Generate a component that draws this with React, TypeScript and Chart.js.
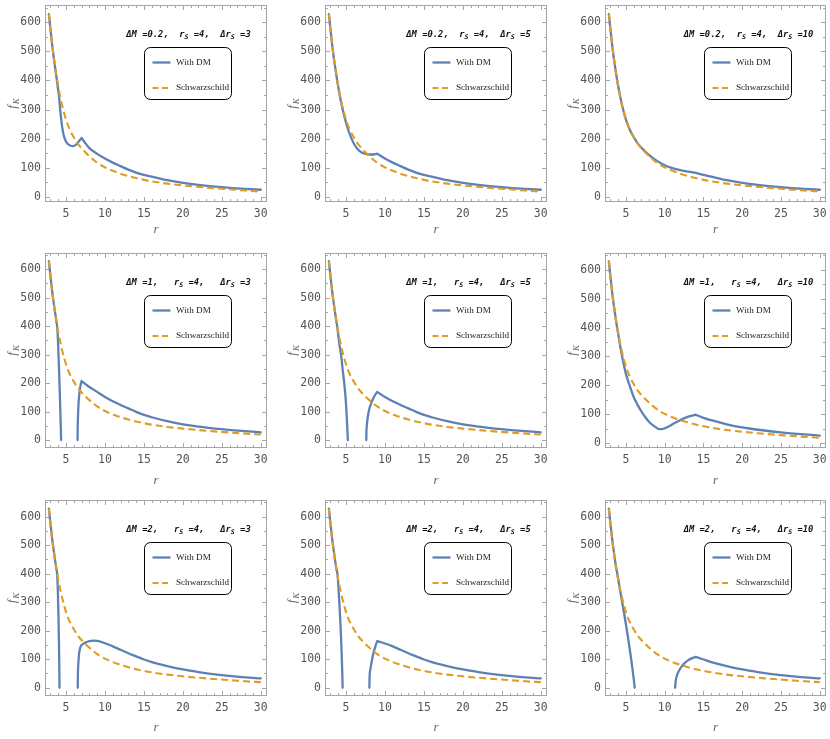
import React, { useEffect, useRef } from 'react';
import { Chart, registerables } from 'chart.js';

Chart.register(...registerables);

// ---------------- data ----------------
// Schwarzschild curve (same in every panel)
const rSchw = [2.8, 3.0, 3.25, 3.5, 3.75, 4.0, 4.25, 4.5, 5.0, 5.5, 6.0, 6.5, 7.0, 8.0, 9.0, 10, 11, 12, 13, 14, 15, 16, 18, 20, 22, 24, 26, 28, 30];
const fSchw = [628, 575, 515, 465, 420, 380, 345, 315, 265, 230, 205, 183, 167, 140, 118, 102, 90, 80, 72, 65, 59, 54, 46, 40, 35, 30.5, 26.5, 22.5, 19.5];

// With DM, ΔM = 0.2
const r_dm02_rs3 = [2.8, 3.0, 3.25, 3.5, 3.75, 3.95, 4.1, 4.25, 4.4, 4.55, 4.7, 4.9, 5.2, 5.6, 5.9, 6.3, 6.6, 7.0, 7.0, 7.0, 7.5, 8, 9, 10, 11, 12, 13, 14, 15, 16, 18, 20, 22, 25, 28, 30];
const f_dm02_rs3 = [628, 575, 515, 463, 415, 375, 345, 300, 262, 232, 212, 196, 183, 176, 175, 180, 190, 203, null, 203, 184, 168, 148, 132, 118, 106, 94, 84, 76, 70, 58, 49, 42, 34, 28, 25];
const r_dm02_rs5 = [2.8, 3.0, 3.25, 3.5, 3.75, 4.0, 4.5, 5.0, 5.5, 6.0, 6.5, 7.0, 7.5, 8.0, 8.5, 8.8, 9.0, 9.0, 9.0, 10, 11, 12, 13, 14, 15, 16, 18, 20, 22, 25, 28, 30];
const f_dm02_rs5 = [628, 575, 515, 465, 420, 378, 308, 255, 214, 184, 164, 153, 148, 146, 146, 147, 149, null, 149, 132, 118, 106, 94, 84, 76, 70, 58, 49, 42, 34, 28, 25];
const r_dm02_rs10 = [2.8, 3.0, 3.25, 3.5, 3.75, 4.0, 4.5, 5.0, 5.5, 6.0, 6.5, 7.0, 8.0, 9.0, 10, 11, 12, 13, 14, 14, 14, 15, 16, 18, 20, 22, 25, 28, 30];
const f_dm02_rs10 = [628, 575, 515, 465, 420, 380, 315, 266, 231, 206, 185, 169, 144, 124, 109, 99, 92, 87, 83, null, 83, 76, 70, 58, 49, 42, 34, 28, 25];

// With DM, ΔM = 1
const r_dm1_rs3 = [2.8, 3.0, 3.25, 3.5, 3.75, 3.9, 4.0, 4.1, 4.2, 4.28, 4.33, 4.36, 4.37, 4.37, 6.48, 6.5, 6.55, 6.62, 6.72, 6.85, 7.0, 7.0, 7.0, 7.5, 8, 9, 10, 11, 12, 13, 14, 15, 16, 18, 20, 22, 25, 28, 30];
const f_dm1_rs3 = [628, 575, 515, 465, 418, 385, 325, 250, 165, 90, 40, 10, 0, null, 0, 45, 95, 135, 165, 190, 207, null, 207, 196, 186, 169, 151, 136, 123, 111, 99, 88, 80, 66, 55, 47, 38, 31, 27];
const r_dm1_rs5 = [2.8, 3.0, 3.25, 3.5, 3.75, 3.9, 4.1, 4.37, 4.6, 4.8, 4.95, 5.06, 5.15, 5.2, 5.23, 5.23, 7.6, 7.62, 7.68, 7.9, 8.3, 8.6, 9.0, 9.0, 9.0, 10, 11, 12, 13, 14, 15, 16, 18, 20, 22, 25, 28, 30];
const f_dm1_rs5 = [628, 575, 515, 465, 418, 392, 345, 297, 240, 192, 145, 99, 50, 20, 0, null, 0, 30, 55, 99, 134, 152, 169, null, 169, 151, 136, 123, 111, 99, 88, 80, 66, 55, 47, 38, 31, 27];
const r_dm1_rs10 = [2.8, 3.0, 3.25, 3.5, 3.75, 4.0, 4.3, 4.6, 5.0, 5.5, 6.0, 6.5, 7.0, 7.5, 8.0, 8.5, 9.0, 9.3, 9.6, 10.0, 10.5, 11.0, 11.6, 12.2, 12.8, 13.4, 14, 14, 14, 15, 16, 18, 20, 22, 25, 28, 30];
const f_dm1_rs10 = [628, 575, 515, 465, 418, 378, 330, 288, 240, 198, 160, 133, 110, 90, 74, 62, 53, 49, 49, 52, 58, 66, 75, 83, 90, 95, 99, null, 99, 88, 80, 66, 55, 47, 38, 31, 27];

// With DM, ΔM = 2
const r_dm2_rs3 = [2.8, 3.0, 3.25, 3.5, 3.75, 3.85, 3.95, 4.03, 4.09, 4.13, 4.15, 4.16, 4.16, 6.5, 6.52, 6.58, 6.68, 6.82, 7.0, 7.0, 7.0, 7.5, 8.0, 8.5, 9.0, 10, 11, 12, 13, 14, 15, 16, 18, 20, 22, 25, 28, 30];
const f_dm2_rs3 = [628, 575, 515, 465, 418, 400, 340, 250, 160, 85, 35, 0, null, 0, 45, 85, 120, 140, 150, null, 150, 158, 163, 165, 164, 156, 145, 133, 121, 110, 99, 90, 76, 64, 55, 44, 36, 33];
const r_dm2_rs5 = [2.8, 3.0, 3.25, 3.5, 3.75, 3.9, 4.05, 4.2, 4.35, 4.45, 4.52, 4.55, 4.56, 4.56, 8.0, 8.02, 8.1, 8.3, 8.55, 8.8, 9.0, 9.0, 9.0, 10, 11, 12, 13, 14, 15, 16, 18, 20, 22, 25, 28, 30];
const f_dm2_rs5 = [628, 575, 515, 465, 418, 398, 340, 270, 185, 110, 50, 15, 0, null, 0, 35, 60, 92, 125, 148, 163, null, 163, 155, 145, 133, 121, 110, 99, 90, 76, 64, 55, 44, 36, 33];
const r_dm2_rs10 = [2.8, 3.0, 3.25, 3.5, 3.75, 3.9, 4.2, 4.5, 4.8, 5.1, 5.4, 5.65, 5.85, 6.0, 6.1, 6.13, 6.13, 11.35, 11.38, 11.45, 11.6, 11.8, 12.2, 12.6, 13.0, 13.5, 14.0, 14.0, 14.0, 15, 16, 18, 20, 22, 25, 28, 30];
const f_dm2_rs10 = [628, 575, 515, 465, 418, 398, 348, 302, 255, 205, 152, 105, 65, 32, 8, 0, null, 0, 15, 30, 45, 58, 75, 87, 96, 103, 108, null, 108, 99, 90, 76, 64, 55, 44, 36, 33];

const xTicks = [5, 10, 15, 20, 25, 30];
const yTicks = [0, 100, 200, 300, 400, 500, 600];
const rsValue = '4';
const deltaMLabels = ['0.2', '1', '2'];
const deltaRsLabels = ['3', '5', '10'];
const legendLabels = ['With DM', 'Schwarzschild'];

const PANEL_DATA = [
  [{ r: r_dm02_rs3, f: f_dm02_rs3 }, { r: r_dm02_rs5, f: f_dm02_rs5 }, { r: r_dm02_rs10, f: f_dm02_rs10 }],
  [{ r: r_dm1_rs3, f: f_dm1_rs3 }, { r: r_dm1_rs5, f: f_dm1_rs5 }, { r: r_dm1_rs10, f: f_dm1_rs10 }],
  [{ r: r_dm2_rs3, f: f_dm2_rs3 }, { r: r_dm2_rs5, f: f_dm2_rs5 }, { r: r_dm2_rs10, f: f_dm2_rs10 }],
];

// ---------------- styles / layout ----------------
const BLUE = '#5E81B5';
const ORANGE = '#E19C24';
const FRAME = '#a6a6a6';
const LABEL = '#555555';
const TITLE = '#666666';
const X_MIN = 2.3;
const X_MAX = 30.8;

const COLS = [
  { x: 0, w: 280, left: 45, right: 13 },
  { x: 280, w: 280, left: 45, right: 13 },
  { x: 560, w: 270, left: 45, right: 4 },
];
const ROWS = [
  { y: 0, h: 245, top: 5, bottom: 43, titleOff: 28 },
  { y: 245, h: 250, top: 7.5, bottom: 46.7, titleOff: 32 },
  { y: 495, h: 244, top: 5, bottom: 43, titleOff: 32 },
];

function toPoints(r: number[], f: (number | null)[]) {
  return r.map((x, i) => ({ x, y: f[i] }));
}

function Panel({ row, col }: { row: number; col: number }) {
  const ref = useRef<HTMLCanvasElement | null>(null);
  const R = ROWS[row];
  const C = COLS[col];

  useEffect(() => {
    const data = PANEL_DATA[row][col];
    const touchesZero = data.f.some((v) => v === 0);
    const yMin = touchesZero ? -29 : -17;
    const yMax = touchesZero ? 658 : 659;

    const overlay = {
      id: 'overlay' + row + col,
      beforeDatasetsDraw(chart: any) {
        const { ctx, chartArea: a, scales } = chart;
        const xs = scales.x;
        const ys = scales.y;
        ctx.save();
        ctx.strokeStyle = FRAME;
        ctx.lineWidth = 1;
        const L = Math.round(a.left) + 0.5;
        const Rr = Math.round(a.right) - 0.5;
        const T = Math.round(a.top) + 0.5;
        const B = Math.round(a.bottom) - 0.5;
        ctx.beginPath();
        for (let v = 3; v <= 30; v++) {
          const px = Math.round(xs.getPixelForValue(v)) + 0.5;
          const len = v % 5 === 0 ? 4.5 : 2.5;
          ctx.moveTo(px, B);
          ctx.lineTo(px, B - len);
          ctx.moveTo(px, T);
          ctx.lineTo(px, T + len);
        }
        for (let v = 0; v <= 650; v += 50) {
          if (v > yMax) break;
          const py = Math.round(ys.getPixelForValue(v)) + 0.5;
          const len = v % 100 === 0 ? 4.5 : 2.5;
          ctx.moveTo(L, py);
          ctx.lineTo(L + len, py);
          ctx.moveTo(Rr, py);
          ctx.lineTo(Rr - len, py);
        }
        ctx.stroke();
        ctx.strokeRect(L, T, Rr - L, B - T);
        ctx.restore();
      },
      afterDraw(chart: any) {
        const { ctx, chartArea: a } = chart;
        ctx.save();
        // --- annotation text ---
        const gap = row === 0 ? '  ' : '   ';
        const parts = [
          { t: `ΔM =${deltaMLabels[row]},${gap}`, sub: false },
          { t: 'r', sub: false },
          { t: 'S', sub: true },
          { t: ` =${rsValue},${gap}`, sub: false },
          { t: 'Δr', sub: false },
          { t: 'S', sub: true },
          { t: ` =${deltaRsLabels[col]}`, sub: false },
        ];
        const mainFont = 'italic bold 8.8px "DejaVu Sans Mono"';
        const subFont = 'italic bold 6.5px "DejaVu Sans Mono"';
        const widths = parts.map((p) => {
          ctx.font = p.sub ? subFont : mainFont;
          return ctx.measureText(p.t).width;
        });
        const total = widths.reduce((s, w) => s + w, 0);
        let tx = a.left + 143.5 - total / 2;
        const ty = a.top + 30;
        ctx.fillStyle = '#111';
        ctx.textBaseline = 'middle';
        ctx.textAlign = 'left';
        parts.forEach((p, i) => {
          ctx.font = p.sub ? subFont : mainFont;
          ctx.fillText(p.t, tx, ty + (p.sub ? 2.6 : 0));
          tx += widths[i];
        });

        // --- legend box ---
        const bx = Math.round(a.left + 99) + 0.5;
        const by = Math.round(a.top + 42) + 0.5;
        const bw = 87;
        const bh = 52;
        ctx.beginPath();
        (ctx as any).roundRect(bx, by, bw, bh, 6);
        ctx.fillStyle = '#ffffff';
        ctx.fill();
        ctx.strokeStyle = '#000';
        ctx.lineWidth = 1;
        ctx.stroke();

        ctx.lineWidth = 2.3;
        ctx.strokeStyle = BLUE;
        ctx.beginPath();
        ctx.moveTo(bx + 8, by + 15);
        ctx.lineTo(bx + 26, by + 15);
        ctx.stroke();
        ctx.strokeStyle = ORANGE;
        ctx.lineWidth = 2.1;
        ctx.setLineDash([6, 3.5]);
        ctx.beginPath();
        ctx.moveTo(bx + 8, by + 40.5);
        ctx.lineTo(bx + 27, by + 40.5);
        ctx.stroke();
        ctx.setLineDash([]);

        ctx.fillStyle = '#222';
        ctx.font = '9.1px "Liberation Serif"';
        ctx.textBaseline = 'middle';
        ctx.fillText(legendLabels[0], bx + 31.5, by + 15);
        ctx.fillText(legendLabels[1], bx + 31.5, by + 40.5);

        // --- axis titles ---
        ctx.fillStyle = TITLE;
        ctx.font = 'italic 13px "Liberation Serif"';
        ctx.textAlign = 'center';
        ctx.fillText('r', (a.left + a.right) / 2, a.bottom + R.titleOff);

        const midY = (a.top + a.bottom) / 2;
        ctx.translate(13.5, midY);
        ctx.rotate(-Math.PI / 2);
        ctx.textAlign = 'left';
        ctx.font = 'italic 13px "Liberation Serif"';
        const fw = ctx.measureText('f').width;
        ctx.font = 'italic 9px "Liberation Serif"';
        const kw = ctx.measureText('K').width;
        const start = -(fw + kw + 1) / 2;
        ctx.font = 'italic 13px "Liberation Serif"';
        ctx.fillText('f', start, -1);
        ctx.font = 'italic 9px "Liberation Serif"';
        ctx.fillText('K', start + fw + 1, 3);
        ctx.restore();
      },
    };

    const tickFont = { family: 'DejaVu Sans Mono', size: 11.5 };
    const chart = new Chart(ref.current as HTMLCanvasElement, {
      type: 'line',
      data: {
        datasets: [
          {
            label: legendLabels[1],
            data: toPoints(rSchw, fSchw) as any,
            borderColor: ORANGE,
            borderWidth: 2.1,
            borderDash: [7, 4],
            cubicInterpolationMode: 'monotone',
            pointRadius: 0,
            fill: false,
            order: 0,
          },
          {
            label: legendLabels[0],
            data: toPoints(data.r, data.f) as any,
            borderColor: BLUE,
            borderWidth: 2.3,
            borderCapStyle: 'round',
            borderJoinStyle: 'round',
            cubicInterpolationMode: 'monotone',
            spanGaps: false,
            pointRadius: 0,
            fill: false,
            order: 1,
          },
        ],
      },
      options: {
        animation: false,
        responsive: false,
        events: [],
        layout: { padding: { left: 0, top: R.top, right: C.right, bottom: 0 } },
        plugins: { legend: { display: false }, tooltip: { enabled: false }, title: { display: false } },
        scales: {
          x: {
            type: 'linear',
            min: X_MIN,
            max: X_MAX,
            afterBuildTicks: (s: any) => {
              s.ticks = xTicks.map((v) => ({ value: v }));
            },
            afterFit: (s: any) => {
              s.height = R.bottom;
              s.paddingLeft = 0;
              s.paddingRight = 0;
              s.paddingTop = 0;
              s.paddingBottom = 0;
            },
            grid: { display: false, drawTicks: false },
            border: { display: false },
            ticks: { font: tickFont, color: LABEL, padding: 5, maxRotation: 0, autoSkip: false },
          },
          y: {
            type: 'linear',
            min: yMin,
            max: yMax,
            afterBuildTicks: (s: any) => {
              s.ticks = yTicks.map((v) => ({ value: v }));
            },
            afterFit: (s: any) => {
              s.width = C.left;
              s.paddingLeft = 0;
              s.paddingRight = 0;
              s.paddingTop = 0;
              s.paddingBottom = 0;
            },
            grid: { display: false, drawTicks: false },
            border: { display: false },
            ticks: { font: tickFont, color: LABEL, padding: 4, autoSkip: false },
          },
        },
      } as any,
      plugins: [overlay],
    });
    return () => chart.destroy();
  }, [row, col]);

  return (
    <canvas
      ref={ref}
      width={C.w}
      height={R.h}
      style={{ position: 'absolute', left: C.x, top: R.y, width: C.w, height: R.h }}
    />
  );
}

export default function App() {
  const cells = [];
  for (let r = 0; r < 3; r++) {
    for (let c = 0; c < 3; c++) {
      cells.push(<Panel key={`${r}-${c}`} row={r} col={c} />);
    }
  }
  return (
    <div style={{ position: 'absolute', left: 0, top: 0, width: 830, height: 739, background: '#fff' }}>
      {cells}
    </div>
  );
}
